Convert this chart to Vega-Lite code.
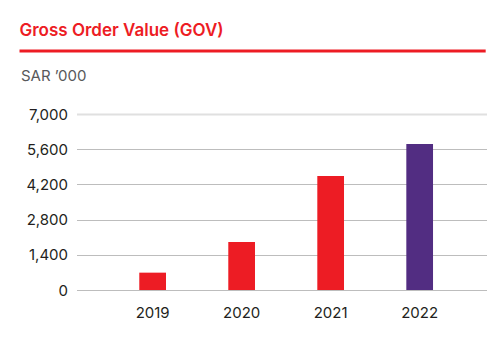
{
  "$schema": "https://vega.github.io/schema/vega-lite/v6.json",
  "background": "white",
  "padding": {"left": 17.5, "top": 21, "right": 17, "bottom": 10},
  "config": {
    "view": {"stroke": null},
    "font": "Inter"
  },
  "spacing": 16,
  "vconcat": [
    {
      "width": 410,
      "height": 1,
      "data": {"values": [{"start": -0.139, "end": 0.998, "line": 0}]},
      "title": {
        "text": "Gross Order Value (GOV)",
        "anchor": "start",
        "frame": "bounds",
        "fontSize": 17,
        "fontWeight": 600,
        "color": "#ED1C24",
        "font": "Inter",
        "offset": 10,
        "dx": 1.5
      },
      "mark": {"type": "rule", "color": "#ED1C24", "strokeWidth": 3, "clip": false},
      "encoding": {
        "x": {"field": "start", "type": "quantitative", "scale": {"domain": [0, 1], "nice": false, "zero": false}, "axis": null},
        "x2": {"field": "end"},
        "y": {"field": "line", "type": "quantitative", "scale": {"domain": [0, 1]}, "axis": null}
      }
    },
    {
      "width": 410,
      "height": 176,
      "data": {
        "values": [
          {"year": "2019", "value": 690},
          {"year": "2020", "value": 1910},
          {"year": "2021", "value": 4530},
          {"year": "2022", "value": 5810}
        ]
      },
      "title": {
        "text": "SAR \u2019000",
        "anchor": "start",
        "frame": "bounds",
        "fontSize": 15,
        "fontWeight": "normal",
        "color": "#58595B",
        "font": "Inter",
        "offset": 23,
        "dx": 1.5
      },
      "mark": {"type": "bar"},
      "encoding": {
        "x": {
          "field": "year",
          "type": "nominal",
          "title": null,
          "scale": {"paddingInner": 0.7, "paddingOuter": 0.653, "align": 0.54},
          "axis": {
            "labelAngle": 0,
            "ticks": false,
            "domain": false,
            "labelPadding": 15,
            "labelFontSize": 15,
            "labelColor": "#231F20",
            "labelFont": "Inter"
          }
        },
        "y": {
          "field": "value",
          "type": "quantitative",
          "title": null,
          "scale": {"domain": [0, 7000]},
          "axis": {
            "values": [0, 1400, 2800, 4200, 5600, 7000],
            "format": ",.0f",
            "ticks": false,
            "domain": false,
            "labelPadding": 9,
            "labelFontSize": 15,
            "labelColor": "#231F20",
            "labelFont": "Inter",
            "gridColor": {"condition": {"test": "datum.value === 7000", "value": "#E0E0E0"}, "value": "#BDBDBD"},
            "gridWidth": {"condition": {"test": "datum.value === 7000", "value": 2}, "value": 1},
            "minExtent": 57,
            "maxExtent": 57
          }
        },
        "color": {
          "field": "year",
          "type": "nominal",
          "legend": null,
          "scale": {"domain": ["2019", "2020", "2021", "2022"], "range": ["#ED1C24", "#ED1C24", "#ED1C24", "#522D82"]}
        }
      }
    }
  ]
}
